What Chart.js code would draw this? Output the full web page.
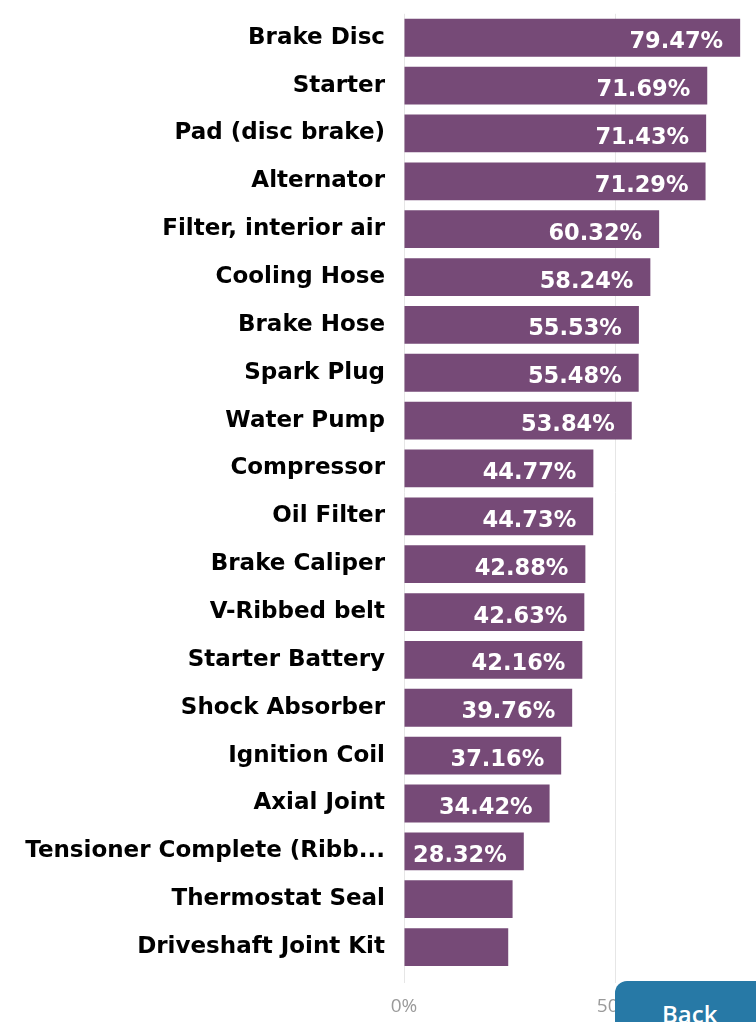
<!DOCTYPE html>
<html>
<head>
<meta charset="utf-8">
<script src="https://cdn.jsdelivr.net/npm/chart.js@4/dist/chart.umd.min.js"></script>
<style>
  html, body { margin: 0; padding: 0; background: #fff; overflow: hidden; width: 756px; height: 1022px; }
  #wrap { position: absolute; left: 0; top: -19px; width: 867px; height: 1041px; }
  #back {
    position: absolute; left: 615px; top: 981px; width: 170px; height: 70px;
    background: #2779a6; border-radius: 12px; color: #fff;
    font-family: "Open Sans", sans-serif; font-weight: 600; font-size: 24px;
    line-height: 1; padding: 21px 0 0 47px; box-sizing: border-box;
  }
</style>
</head>
<body>
<div id="wrap"><canvas id="parts"></canvas></div>
<div id="back">Back</div>
<script>
const parts = [
  "Brake Disc", "Starter", "Pad (disc brake)", "Alternator", "Filter, interior air",
  "Cooling Hose", "Brake Hose", "Spark Plug", "Water Pump", "Compressor",
  "Oil Filter", "Brake Caliper", "V-Ribbed belt", "Starter Battery", "Shock Absorber",
  "Ignition Coil", "Axial Joint", "Tensioner Complete (Ribb...", "Thermostat Seal", "Driveshaft Joint Kit"
];
const shares = [
  79.47, 71.69, 71.43, 71.29, 60.32,
  58.24, 55.53, 55.48, 53.84, 44.77,
  44.73, 42.88, 42.63, 42.16, 39.76,
  37.16, 34.42, 28.32, 25.67, 24.64
];
const xTicks = [0, 50, 100];

const barColor = "#764a77";

// white value text at the inside end of each bar, skipped when it does not fit
const valueLabels = {
  id: "valueLabels",
  afterDatasetsDraw(chart) {
    const ctx = chart.ctx;
    const meta = chart.getDatasetMeta(0);
    ctx.save();
    ctx.font = "bold 22.5px 'DejaVu Sans'";
    ctx.fillStyle = "#fff";
    ctx.textAlign = "right";
    ctx.textBaseline = "alphabetic";
    meta.data.forEach((bar, i) => {
      const txt = shares[i].toFixed(2) + "%";
      const w = ctx.measureText(txt).width;
      const barW = bar.x - bar.base;
      if (w + 17 + 6 > barW) return;
      ctx.fillText(txt, bar.x - 17, bar.y + 10.5);
    });
    ctx.restore();
  }
};

new Chart(document.getElementById("parts"), {
  type: "bar",
  data: {
    labels: parts,
    datasets: [{
      data: shares,
      backgroundColor: barColor,
      borderWidth: 0,
      barPercentage: 0.79,
      categoryPercentage: 1
    }]
  },
  options: {
    indexAxis: "y",
    responsive: true,
    maintainAspectRatio: false,
    animation: false,
    layout: { padding: { left: 0, right: 40, top: 13, bottom: 0 } },
    plugins: {
      legend: { display: false },
      tooltip: { enabled: false }
    },
    scales: {
      x: {
        min: 0,
        max: 100,
        afterBuildTicks: (scale) => { scale.ticks = xTicks.map(v => ({ value: v })); },
        afterFit: (scale) => { scale.height = 51; },
        grid: { color: "#e6e6e6", tickLength: 12, drawTicks: true, tickColor: "#e6e6e6" },
        border: { display: false },
        ticks: {
          color: "#9a9a9a",
          padding: 12,
          font: { family: "'Open Sans'", size: 19 },
          callback: (v) => v + "%"
        }
      },
      y: {
        afterFit: (scale) => { scale.width = 404; },
        grid: { display: false, drawTicks: false },
        border: { display: false },
        ticks: {
          color: "#000",
          padding: 19,
          autoSkip: false,
          font: { family: "'DejaVu Sans'", size: 23, weight: "bold" }
        }
      }
    }
  },
  plugins: [valueLabels]
});
</script>
</body>
</html>
